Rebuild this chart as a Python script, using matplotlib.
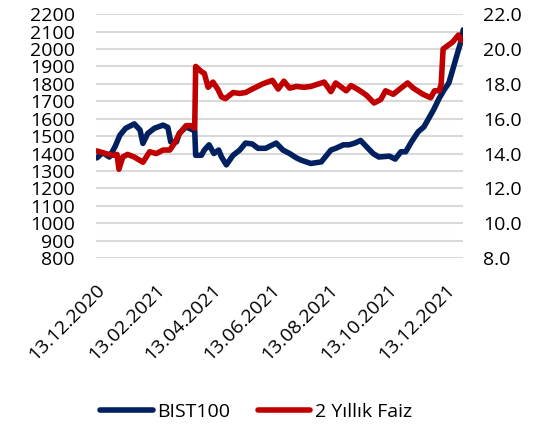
import matplotlib
matplotlib.use("Agg")
import matplotlib.pyplot as plt
import pandas as pd

# BIST100 (left axis)
bist_dates = ["14.12.2020", "20.12.2020", "27.12.2020", "02.01.2021", "07.01.2021",
              "13.01.2021", "22.01.2021", "28.01.2021", "31.01.2021", "05.02.2021",
              "12.02.2021", "21.02.2021", "26.02.2021", "01.03.2021", "07.03.2021",
              "10.03.2021", "17.03.2021", "24.03.2021", "26.03.2021", "27.03.2021",
              "02.04.2021", "05.04.2021", "10.04.2021", "15.04.2021", "20.04.2021",
              "23.04.2021", "28.04.2021", "05.05.2021", "12.05.2021", "18.05.2021",
              "25.05.2021", "31.05.2021", "08.06.2021", "19.06.2021", "26.06.2021",
              "03.07.2021", "10.07.2021", "15.07.2021", "25.07.2021", "05.08.2021",
              "15.08.2021", "20.08.2021", "28.08.2021", "03.09.2021", "09.09.2021",
              "15.09.2021", "21.09.2021", "28.09.2021", "04.10.2021", "15.10.2021",
              "21.10.2021", "27.10.2021", "01.11.2021", "07.11.2021", "14.11.2021",
              "20.11.2021", "30.11.2021", "06.12.2021", "11.12.2021", "16.12.2021",
              "21.12.2021", "26.12.2021", "29.12.2021", "31.12.2021"]
bist_values = [1375, 1405, 1380, 1440, 1505,
               1545, 1570, 1535, 1458, 1515,
               1545, 1563, 1550, 1467, 1467,
               1515, 1553, 1535, 1535, 1390,
               1390, 1420, 1450, 1400, 1420,
               1380, 1335, 1390, 1420, 1460,
               1455, 1430, 1430, 1460, 1420,
               1400, 1375, 1362, 1343, 1352,
               1420, 1430, 1450, 1450, 1460,
               1475, 1440, 1400, 1380, 1385,
               1368, 1410, 1410, 1467, 1525,
               1553, 1650, 1718, 1765, 1805,
               1900, 1995, 2050, 2110]

# 2 year yield (right axis)
faiz_dates = ["14.12.2020", "23.12.2020", "31.12.2020", "04.01.2021", "06.01.2021",
              "10.01.2021", "15.01.2021", "22.01.2021", "31.01.2021", "07.02.2021",
              "14.02.2021", "21.02.2021", "28.02.2021", "05.03.2021", "10.03.2021",
              "17.03.2021", "22.03.2021", "26.03.2021", "27.03.2021", "02.04.2021",
              "05.04.2021", "09.04.2021", "14.04.2021", "19.04.2021", "23.04.2021",
              "27.04.2021", "05.05.2021", "12.05.2021", "18.05.2021", "25.05.2021",
              "05.06.2021", "15.06.2021", "21.06.2021", "27.06.2021", "03.07.2021",
              "10.07.2021", "18.07.2021", "25.07.2021", "08.08.2021", "15.08.2021",
              "20.08.2021", "31.08.2021", "05.09.2021", "13.09.2021", "21.09.2021",
              "29.09.2021", "06.10.2021", "11.10.2021", "19.10.2021", "27.10.2021",
              "03.11.2021", "09.11.2021", "19.11.2021", "27.11.2021", "01.12.2021",
              "06.12.2021", "08.12.2021", "10.12.2021", "15.12.2021", "20.12.2021",
              "26.12.2021", "29.12.2021", "31.12.2021"]
faiz_values = [14.15, 14.0, 13.9, 13.95, 13.1,
               13.8, 13.95, 13.8, 13.5, 14.1,
               14.0, 14.2, 14.2, 14.6, 15.15,
               15.6, 15.6, 15.45, 19.0, 18.7,
               18.6, 17.8, 18.1, 17.7, 17.25,
               17.15, 17.5, 17.45, 17.5, 17.7,
               18.0, 18.2, 17.7, 18.15, 17.75,
               17.85, 17.8, 17.85, 18.1, 17.55,
               18.05, 17.6, 17.9, 17.65, 17.35,
               16.9, 17.1, 17.6, 17.4, 17.75,
               18.05, 17.75, 17.4, 17.2, 17.6,
               17.6, 18.0, 20.0, 20.2, 20.4,
               20.8, 20.5, 20.5]

tick_dates = ["13.12.2020", "13.02.2021", "13.04.2021", "13.06.2021",
              "13.08.2021", "13.10.2021", "13.12.2021"]
left_ticks = list(range(800, 2201, 100))
right_ticks = [8, 10, 12, 14, 16, 18, 20, 22]

plt.rcParams['font.family'] = ['Open Sans', 'DejaVu Sans']
blue = '#002060'
red = '#C00000'
fs = 14

bd = pd.to_datetime(bist_dates, format="%d.%m.%Y")
fd = pd.to_datetime(faiz_dates, format="%d.%m.%Y")
td = pd.to_datetime(tick_dates, format="%d.%m.%Y")

fig = plt.figure(figsize=(5.45, 4.28), dpi=100)
ax = fig.add_axes([0.176, 0.397, 0.674, 0.570])
ax2 = ax.twinx()

ax.plot(bd, bist_values, color=blue, lw=4.0, solid_capstyle='round', solid_joinstyle='round', label='BIST100', zorder=3)
ax2.plot(fd, faiz_values, color=red, lw=4.0, solid_capstyle='round', solid_joinstyle='round', label='2 Yıllık Faiz', zorder=3)

ax.set_ylim(800, 2200)
ax2.set_ylim(8, 22)
ax.set_yticks(left_ticks)
ax2.set_yticks(right_ticks)
ax2.set_yticklabels([f"{v:.1f}" for v in right_ticks])
ax.set_xlim(bd[0], bd[-1])
ax.set_xticks(td)
ax.set_xticklabels(tick_dates, rotation=45, ha='right', rotation_mode='anchor')
ax.grid(axis='y', color='#D9D9D9', lw=1.5)
ax.set_axisbelow(True)

for a in (ax, ax2):
    for s in a.spines.values():
        s.set_visible(False)
ax.tick_params(axis='y', length=0, pad=15, labelsize=fs)
ax.tick_params(axis='x', length=0, pad=16, labelsize=fs)
ax2.tick_params(axis='y', length=0, pad=14, labelsize=fs)

h1, l1 = ax.get_legend_handles_labels()
h2, l2 = ax2.get_legend_handles_labels()
fig.legend(h1 + h2, l1 + l2, loc='center', bbox_to_anchor=(0.47, 0.038), ncol=2,
           frameon=False, fontsize=fs, handlelength=2.7, handletextpad=0.25,
           columnspacing=1.4)

fig.savefig("out.png", dpi=100)
